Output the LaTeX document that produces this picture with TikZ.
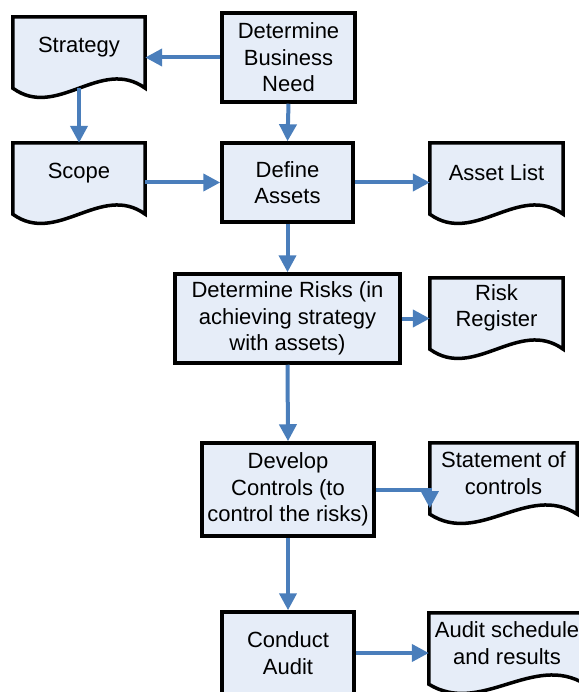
\documentclass[tikz,border=0pt]{standalone}
\usepackage{fontspec}
\setmainfont{Liberation Sans}
\usetikzlibrary{positioning, arrows.meta, calc, backgrounds}
\definecolor{flowblue}{HTML}{4A7EBB}
\definecolor{paleblue}{HTML}{E6EDF8}

% outline of a document shape (wavy bottom) round a named node
\newcommand{\docframe}[1]{%
  \draw[docline] ([yshift=-11pt]#1.south west) -- (#1.north west) -- (#1.north east) -- ([yshift=-11pt]#1.south east)
    .. controls ($([yshift=-11pt]#1.south east)!0.333!([yshift=-11pt]#1.south west)+(0,32pt)$)
    and ($([yshift=-11pt]#1.south east)!0.667!([yshift=-11pt]#1.south west)+(0,-32pt)$)
    .. cycle;}

\begin{document}
\begin{tikzpicture}[
    x=1pt, y=-1pt,
    font=\fontsize{22pt}{26.5pt}\selectfont,
    task/.style={rectangle, draw=black, line width=3.5pt, fill=paleblue, align=center, inner sep=2pt},
    doc/.style={rectangle, minimum width=132pt, minimum height=60pt, align=center, inner sep=1pt},
    docline/.style={draw=black, line width=3.5pt, fill=paleblue},
    flow/.style={draw=flowblue, line width=4pt, -{Triangle[length=17pt, width=17pt]}}
]
\useasboundingbox (0,0) rectangle (578,692);

% ==================== PROCESS BOXES ====================
\node[task, minimum width=133pt, minimum height=89pt] (need) at (288.5, 57.5) {Determine\\Business\\Need};
\node[task, minimum width=131pt, minimum height=79pt] (assets) at (287.5, 182.5) {Define\\Assets};
\node[task, minimum width=225pt, minimum height=89pt] (risks) at (287.5, 318.5) {Determine Risks (in\\achieving strategy\\with assets)};
\node[task, minimum width=172pt, minimum height=93pt] (controls) at (288, 489.5) {Develop\\Controls (to\\control the risks)};
\node[task, minimum width=132pt, minimum height=82pt] (audit) at (288, 653) {Conduct\\Audit};

% ==================== DOCUMENTS ====================
\node[doc] (strategy) at (79, 47) {Strategy};
\node[doc] (scope) at (79, 173) {Scope};
\node[doc, minimum width=133pt] (assetlist) at (496.5, 173) {Asset List};
\node[doc, minimum width=133pt] (register) at (496.5, 308) {Risk\\Register};
\node[doc, minimum width=147pt] (statement) at (503.5, 473) {Statement of\\controls};
\node[doc, minimum width=156pt] (schedule) at (507, 643) {Audit schedule\\and results};

\begin{scope}[on background layer]
  \docframe{strategy}
  \docframe{scope}
  \docframe{assetlist}
  \docframe{register}
  \docframe{statement}
  \docframe{schedule}
\end{scope}

% ==================== FLOW ARROWS ====================
\draw[flow] (need.west) -- (need.west -| strategy.east);
\draw[flow] (need.south) -- (assets.north);
\draw[flow] ([yshift=-11pt]strategy.south) -- (scope.north);
\draw[flow] (scope.east |- assets.west) -- (assets.west);
\draw[flow] (assets.east) -- (assets.east -| assetlist.west);
\draw[flow] (assets.south) -- (risks.north);
\draw[flow] (risks.east) -- (risks.east -| register.west);
\draw[flow] (risks.south) -- (controls.north);
\draw[flow] (controls.east) -| ([yshift=-5pt]statement.south west);
\draw[flow] (controls.south) -- (audit.north);
\draw[flow] (audit.east) -- (audit.east -| schedule.west);

\end{tikzpicture}
\end{document}
